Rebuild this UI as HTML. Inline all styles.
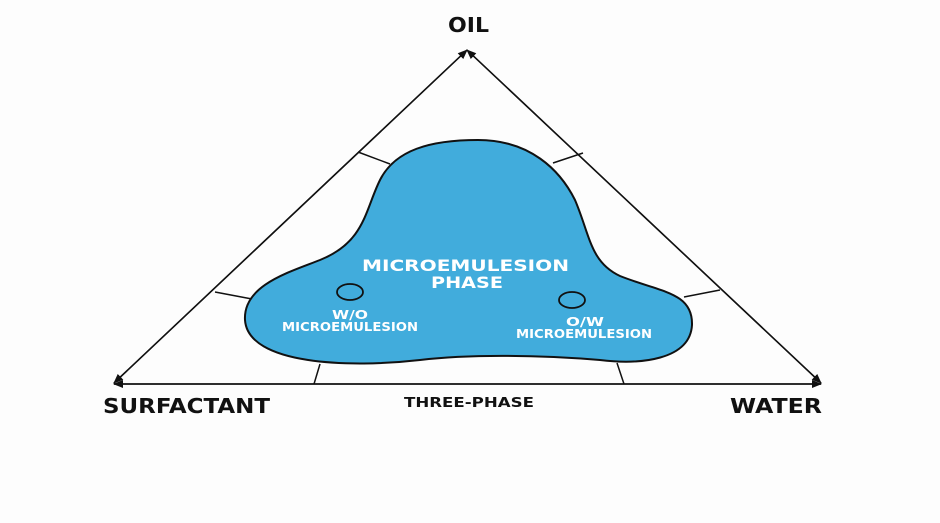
<!DOCTYPE html>
<html><head><style>html,body{margin:0;background:#fdfdfd;}svg{display:block}text{font-family:"DejaVu Sans","Liberation Sans",sans-serif;font-weight:bold}</style></head>
<body>
<svg width="940" height="523" viewBox="0 0 940 523">
<defs><marker id="a" markerWidth="10" markerHeight="10" refX="9" refY="5" orient="auto" markerUnits="userSpaceOnUse"><path d="M0,1 L10,5 L0,9 Z" fill="#111"/></marker></defs>
<g stroke="#111" stroke-width="1.5" fill="none">
<line x1="467" y1="50" x2="114" y2="383" marker-end="url(#a)"/>
<line x1="114" y1="383" x2="467" y2="50" marker-end="url(#a)"/>
<line x1="467" y1="50" x2="821" y2="383" marker-end="url(#a)"/>
<line x1="821" y1="383" x2="467" y2="50" marker-end="url(#a)"/>
<line x1="114" y1="384" x2="821" y2="384" marker-end="url(#a)"/>
<line x1="821" y1="384" x2="114" y2="384" marker-end="url(#a)"/>
<line x1="358" y1="152" x2="390" y2="164"/>
<line x1="215" y1="292" x2="252" y2="299"/>
<line x1="553" y1="163" x2="583" y2="153"/>
<line x1="684" y1="297" x2="720" y2="290"/>
<line x1="320" y1="364" x2="314" y2="384"/>
<line x1="617" y1="363" x2="624" y2="384"/>
</g>
<path d="M478,140 C530,140 560,170 575,200 C590,235 590,262 620,276 C660,292 693,292 692,325 C690,360 640,365 600,360 C540,355 470,354 420,360 C350,368 248,365 245,320 C243,285 290,272 320,260 C365,242 365,210 380,180 C395,150 430,140 478,140 Z" fill="#41acdc" stroke="#111" stroke-width="2"/>
<ellipse cx="350" cy="292" rx="13" ry="8" fill="none" stroke="#111" stroke-width="1.8"/>
<ellipse cx="572" cy="300" rx="13" ry="8" fill="none" stroke="#111" stroke-width="1.8"/>
<g fill="#fff">
<text x="362" y="271" font-size="16" textLength="207" lengthAdjust="spacingAndGlyphs">MICROEMULESION</text>
<text x="431" y="288" font-size="16" textLength="72" lengthAdjust="spacingAndGlyphs">PHASE</text>
<text x="332" y="319" font-size="12" textLength="36" lengthAdjust="spacingAndGlyphs">W/O</text>
<text x="282" y="331" font-size="12" textLength="136" lengthAdjust="spacingAndGlyphs">MICROEMULESION</text>
<text x="566" y="326" font-size="12" textLength="38" lengthAdjust="spacingAndGlyphs">O/W</text>
<text x="516" y="338" font-size="12" textLength="136" lengthAdjust="spacingAndGlyphs">MICROEMULESION</text>
</g>
<g fill="#111">
<text x="448" y="32" font-size="20" textLength="41" lengthAdjust="spacingAndGlyphs">OIL</text>
<text x="103" y="413" font-size="20" textLength="167" lengthAdjust="spacingAndGlyphs">SURFACTANT</text>
<text x="730" y="413" font-size="20" textLength="92" lengthAdjust="spacingAndGlyphs">WATER</text>
<text x="404" y="407" font-size="13" textLength="130" lengthAdjust="spacingAndGlyphs">THREE-PHASE</text>
</g>
</svg>
</body></html>
